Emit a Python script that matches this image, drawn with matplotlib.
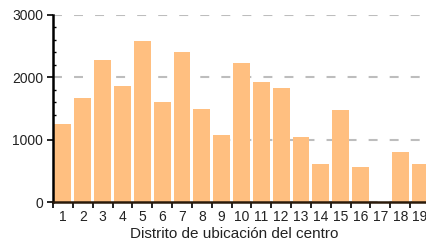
import numpy as np
from matplotlib import pyplot as plt
from matplotlib.ticker import MultipleLocator, FixedLocator

plt.rcParams['font.family'] = ['Liberation Sans', 'DejaVu Sans']

distritos = list(range(1, 20))
centros = [1250, 1670, 2280, 1860, 2585, 1605, 2410, 1495, 1075,
           2235, 1925, 1830, 1050, 610, 1475, 565, 0, 805, 610]
etiquetas = [str(d) for d in distritos]

fig = plt.figure(figsize=(4.27, 2.41), dpi=100)
ax = fig.add_axes([53 / 427, 39 / 241, 374 / 427, 187 / 241])

ax.bar(distritos, centros, width=0.85, color='#ffbf80', zorder=2)

# rejilla discontinua
ax.yaxis.grid(True, color='#bdbdbd', linestyle=(0, (4.3, 5.8)), linewidth=1.5, zorder=1)
ax.set_axisbelow(True)

ax.set_xlim(0.5, 19.35)
ax.set_ylim(0, 3000)

ax.yaxis.set_major_locator(MultipleLocator(1000))
ax.yaxis.set_minor_locator(MultipleLocator(200))
ax.tick_params(axis='y', which='major', direction='out', length=4, width=1.2,
               labelsize=10, pad=3, labelcolor='#222222')
ax.tick_params(axis='y', which='minor', direction='in', length=2, width=1)

ax.xaxis.set_major_locator(FixedLocator(distritos))
ax.set_xticklabels(etiquetas)
ax.xaxis.set_minor_locator(FixedLocator(np.arange(0.5, 20, 1)))
ax.tick_params(axis='x', which='major', length=0, labelsize=10, pad=6, labelcolor='#222222')
ax.tick_params(axis='x', which='minor', direction='out', length=4, width=1.2)

for s in ['top', 'right']:
    ax.spines[s].set_visible(False)
ax.spines['left'].set_linewidth(1.8)
ax.spines['bottom'].set_linewidth(1.8)
ax.spines['bottom'].set_color('#2a1a0a')

ax.set_xlabel('Distrito de ubicación del centro', fontsize=11, color='#222222')
ax.xaxis.set_label_coords((234 - 53) / 374, -25 / 187)

fig.savefig('out.png', dpi=100)
